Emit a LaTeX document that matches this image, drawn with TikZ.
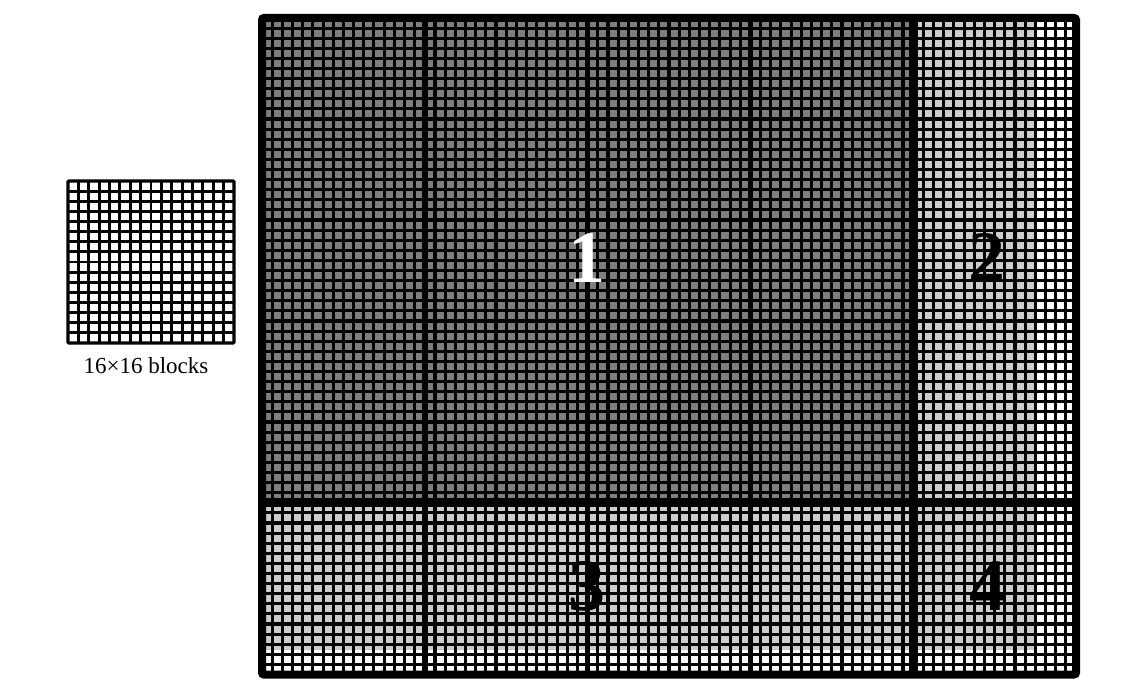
\documentclass[tikz,border=0pt]{standalone}
\usepackage{fontspec}
\setmainfont{Liberation Serif}
\definecolor{darkcell}{HTML}{7E7E7E}
\definecolor{lightcell}{HTML}{CCCCCC}
\tikzset{
  gridline/.style={line width=3.1pt, black},
  blockline/.style={line width=5.5pt, black},
  regionline/.style={line width=9pt, black},
  frameline/.style={line width=8pt, black, rounded corners=2pt},
  smallgrid/.style={line width=2.8pt, black},
  bignum/.style={font=\fontsize{74}{74}\selectfont\bfseries, inner sep=0pt},
  caption/.style={font=\fontsize{23}{23}\selectfont, inner sep=0pt}
}
\begin{document}
\begin{tikzpicture}[x=1pt,y=-1pt]
\useasboundingbox (0,0) rectangle (1134,693);
\pgfmathsetmacro{\gx}{262}
\pgfmathsetmacro{\gy}{18}
\pgfmathsetmacro{\cw}{10.175}
\pgfmathsetmacro{\ch}{10.1}
\pgfmathsetmacro{\gxe}{\gx+80*\cw}
\pgfmathsetmacro{\gye}{\gy+65*\ch}
% fills
\fill[lightcell] (\gx,\gy) rectangle ({\gx+76*\cw},{\gy+62.6*\ch});
\fill[darkcell] (\gx,\gy) rectangle ({\gx+64*\cw},{\gy+48*\ch});
% cell grid
\foreach \i in {0,...,80} {
  \draw[gridline] ({\gx+\i*\cw},\gy) -- ({\gx+\i*\cw},\gye);
}
\foreach \j in {0,...,65} {
  \draw[gridline] (\gx,{\gy+\j*\ch}) -- (\gxe,{\gy+\j*\ch});
}
% block lines
\foreach \i in {16,32,48} {
  \draw[blockline] ({\gx+\i*\cw},\gy) -- ({\gx+\i*\cw},\gye);
}
\draw[regionline] ({\gx+64*\cw},\gy) -- ({\gx+64*\cw},\gye);
\draw[regionline] (\gx,{\gy+48*\ch}) -- (\gxe,{\gy+48*\ch});
\draw[frameline] (\gx,\gy) rectangle (\gxe,\gye);
% region labels
\node[bignum, text=white] (r1) at (587,258) {1};
\node[bignum] (r2) at (987,258) {2};
\node[bignum] (r3) at (587,586) {3};
\node[bignum] (r4) at (988,586) {4};
% small 16x16 grid
\foreach \i in {0,...,16} {
  \draw[smallgrid] ({68+\i*166/16},181) -- ({68+\i*166/16},343);
  \draw[smallgrid] (68,{181+\i*162/16}) -- (234,{181+\i*162/16});
}
\draw[line width=3.2pt, rounded corners=1pt] (68,181) rectangle (234,343);
\node[caption] (cap) at (146,366) {16×16 blocks};
\end{tikzpicture}
\end{document}
